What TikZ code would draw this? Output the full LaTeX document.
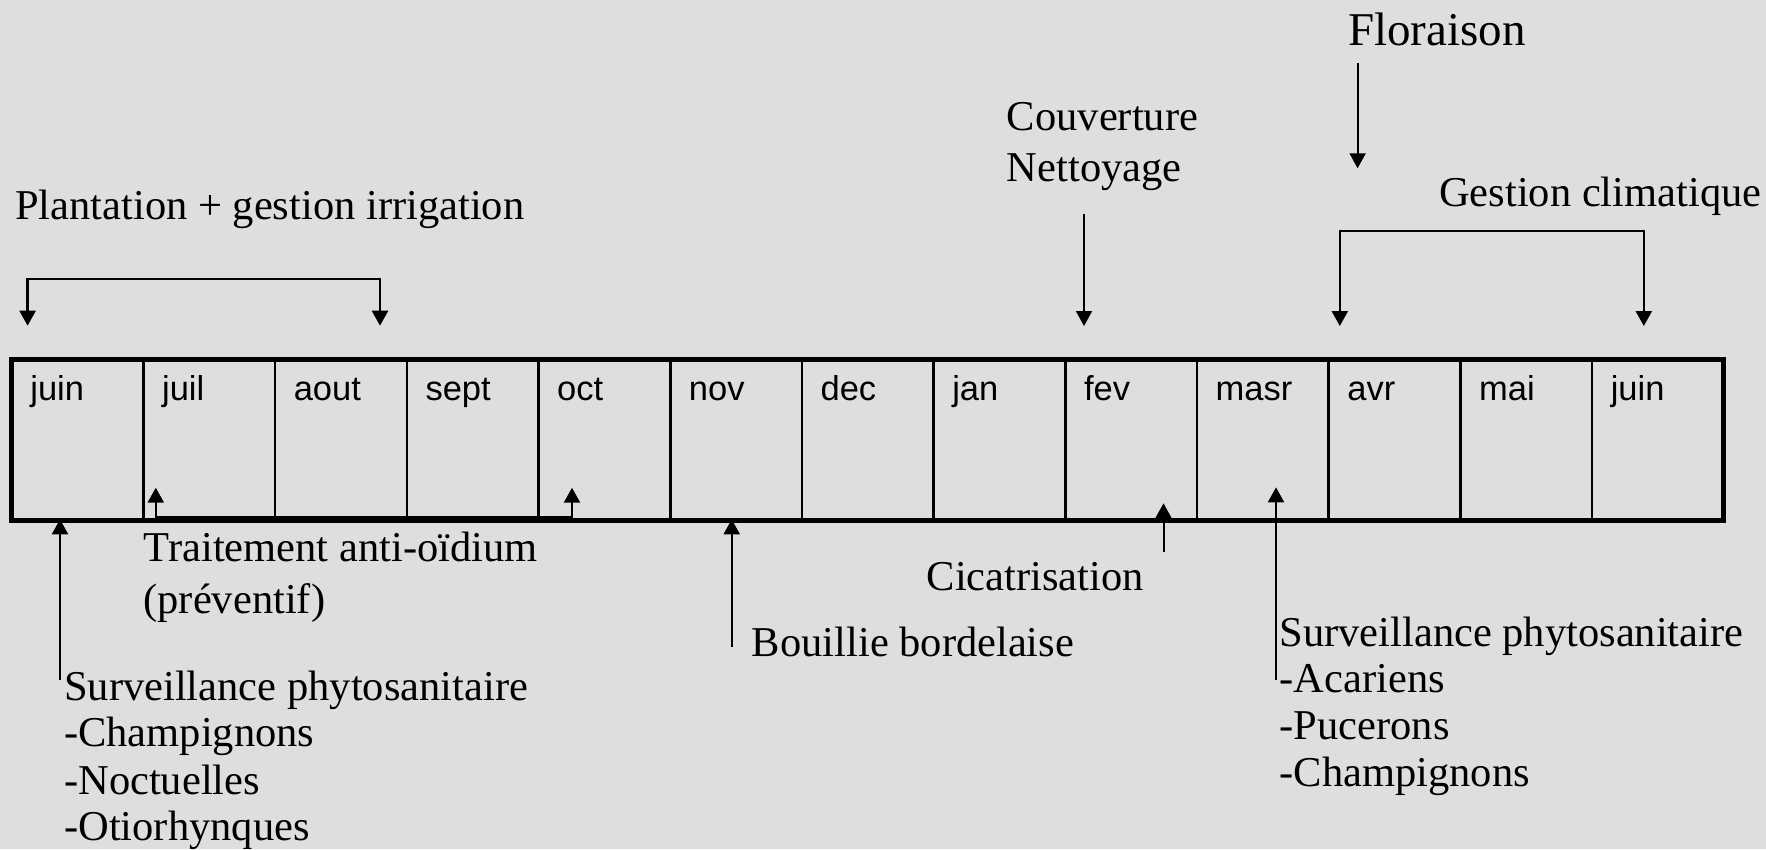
\documentclass[tikz,border=0pt]{standalone}
\usepackage{fontspec}
\setmainfont{Liberation Serif}
\newfontfamily\msans{Liberation Sans}
\usetikzlibrary{arrows.meta}
\definecolor{bg}{RGB}{222,222,222}
\begin{document}
\begin{tikzpicture}[x=1pt,y=-1pt,
  cell/.style={draw, line width=2.6pt, minimum width=131.7pt, minimum height=161.5pt, inner sep=0pt, outer sep=0pt, anchor=north west},
  month/.style={font=\msans\fontsize{34.5}{40}\selectfont, inner sep=0pt, anchor=base west},
  lbl/.style={font=\fontsize{42.5}{47}\selectfont, inner sep=0pt, anchor=base west},
  bigl/.style={font=\fontsize{47}{52}\selectfont, inner sep=0pt, anchor=base west},
  arr/.style={line width=2pt, -{Triangle[width=16pt,length=15pt]}},
  brk/.style={line width=2.4pt, {Triangle[width=16pt,length=15pt]}-{Triangle[width=16pt,length=15pt]}}]
\fill[bg] (0,0) rectangle (1766,849);
\useasboundingbox (0,0) rectangle (1766,849);

% table
\foreach \m [count=\i] in {juin,juil,aout,sept,oct,nov,dec,jan,fev,masr,avr,mai,juin}{
  \node[cell] (c\i) at ({11.7+(\i-1)*131.7},359) {};
  \node[month] (t\i) at ({11.7+(\i-1)*131.7+18.5},400) {\m};
}
\draw[line width=5pt] (c1.north west) rectangle (c13.south east);

% top labels
\node[lbl] (plant) at (15,219.3) {Plantation + gestion irrigation};
\node[lbl] (couv) at (1006.7,130) {Couverture};
\node[lbl] (nett) at (1006.7,181.7) {Nettoyage};
\node[bigl] (flor) at (1348,45.7) {Floraison};
\node[lbl] (gest) at (1439,206.7) {Gestion climatique};

% bottom labels
\node[lbl] (trait) at (143.5,561.7) {Traitement anti-oïdium};
\node[lbl] (prev) at (143.3,613) {(préventif)};
\node[lbl] (cica) at (926.5,590) {Cicatrisation};
\node[lbl] (bouil) at (751.7,656.7) {Bouillie bordelaise};
\node[lbl] (sva) at (64,700) {Surveillance phytosanitaire};
\node[lbl] (svb) at (64,746.7) {-Champignons};
\node[lbl] (svc) at (64,794) {-Noctuelles};
\node[lbl] (svd) at (64,840.7) {-Otiorhynques};
\node[lbl] (swa) at (1279.4,646.7) {Surveillance phytosanitaire};
\node[lbl] (swb) at (1279.4,692.7) {-Acariens};
\node[lbl] (swc) at (1279.4,739.3) {-Pucerons};
\node[lbl] (swd) at (1279.4,786) {-Champignons};

% connector points
\coordinate (pl1) at (27.6,325.7);
\coordinate (pl2) at (380,325.7);
\coordinate (gc1) at (1339.8,326);
\coordinate (gc2) at (1643.8,326);
\coordinate (cvs) at (1084,214.3);
\coordinate (cve) at (1084,326);
\coordinate (fls) at (1357.6,63.3);
\coordinate (fle) at (1357.6,168.3);
\coordinate (tr1) at (155.8,487.7);
\coordinate (tr2) at (572,487.7);
\coordinate (bos) at (731.7,646.7);
\coordinate (boe) at (731.7,519.3);
\coordinate (cis) at (1163.5,551.7);
\coordinate (cie) at (1163.5,503.3);
\coordinate (s1s) at (60,680);
\coordinate (s1e) at (60,519.3);
\coordinate (s2s) at (1276,680);
\coordinate (s2e) at (1276,487.3);

% connectors
\draw[brk] (pl1) |- (200,279) -| (pl2);
\draw[brk] (gc1) |- (1500,231) -| (gc2);
\draw[arr] (cvs) -- (cve);
\draw[arr] (fls) -- (fle);
\draw[brk] (tr1) |- (360,517) -| (tr2);
\draw[arr] (bos) -- (boe);
\draw[arr] (cis) -- (cie);
\draw[arr] (s1s) -- (s1e);
\draw[arr] (s2s) -- (s2e);
\end{tikzpicture}
\end{document}
